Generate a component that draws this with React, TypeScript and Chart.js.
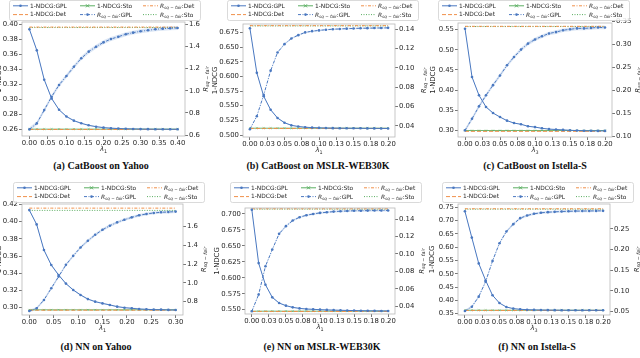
import React, { useEffect, useRef } from "react";
import { Chart, registerables } from "chart.js";
Chart.register(...registerables);

// ---------------- data ----------------
// shared lambda grids
const lambda040 = [0, 0.02, 0.04, 0.06, 0.08, 0.1, 0.12, 0.14, 0.16, 0.18, 0.2, 0.22, 0.24, 0.26, 0.28, 0.3, 0.32, 0.34, 0.36, 0.38, 0.4];
const lambda030 = [0, 0.015, 0.03, 0.045, 0.06, 0.075, 0.09, 0.105, 0.12, 0.135, 0.15, 0.165, 0.18, 0.195, 0.21, 0.225, 0.24, 0.255, 0.27, 0.285, 0.3];
const lambda020 = [0, 0.01, 0.02, 0.03, 0.04, 0.05, 0.06, 0.07, 0.08, 0.09, 0.1, 0.11, 0.12, 0.13, 0.14, 0.15, 0.16, 0.17, 0.18, 0.19, 0.2];

const xTicks040 = [0, 0.05, 0.1, 0.15, 0.2, 0.25, 0.3, 0.35, 0.4];
const xLabels040 = ["0.00", "0.05", "0.10", "0.15", "0.20", "0.25", "0.30", "0.35", "0.40"];
const xTicks030 = [0, 0.05, 0.1, 0.15, 0.2, 0.25, 0.3];
const xLabels030 = ["0.00", "0.05", "0.10", "0.15", "0.20", "0.25", "0.30"];
const xTicks020 = [0, 0.025, 0.05, 0.075, 0.1, 0.125, 0.15, 0.175, 0.2];
const xLabels020 = ["0.00", "0.03", "0.05", "0.08", "0.10", "0.13", "0.15", "0.18", "0.20"];

// (a) CatBoost on Yahoo
const aNdcgGpl = [0.393, 0.365, 0.326, 0.301, 0.286, 0.277, 0.2715, 0.268, 0.2653, 0.2635, 0.2622, 0.2615, 0.261, 0.2607, 0.2605, 0.2603, 0.2602, 0.2601, 0.2601, 0.26, 0.26];
const aRiskGpl = [0.651, 0.705, 0.825, 0.946, 1.052, 1.133, 1.217, 1.293, 1.353, 1.398, 1.437, 1.467, 1.488, 1.51, 1.525, 1.537, 1.546, 1.555, 1.561, 1.564, 1.567];
const aBaselines = [0.2598, 0.2602, 1.575, 1.571]; // 1-NDCG:Det, 1-NDCG:Sto, R:Det, R:Sto
const aBand = [0.0008, 0.018];
const aLeftTicks = [0.26, 0.28, 0.3, 0.32, 0.34, 0.36, 0.38, 0.4];
const aRightTicks = [0.6, 0.8, 1.0, 1.2, 1.4, 1.6];

// (b) CatBoost on MSLR-WEB30K
const bNdcgGpl = [0.682, 0.606, 0.566, 0.543, 0.529, 0.521, 0.5165, 0.5145, 0.5133, 0.5126, 0.5122, 0.5119, 0.5117, 0.5116, 0.5115, 0.5114, 0.5114, 0.5113, 0.5113, 0.5112, 0.5112];
const bRiskGpl = [0.0366, 0.05, 0.072, 0.097, 0.1158, 0.1244, 0.1303, 0.1337, 0.1365, 0.1378, 0.1386, 0.1393, 0.1398, 0.1401, 0.1404, 0.1406, 0.1408, 0.1409, 0.141, 0.1411, 0.1412];
const bBaselines = [0.5112, 0.5116, 0.1435, 0.1432];
const bBand = [0.0008, 0.0008];
const bLeftTicks = [0.5, 0.525, 0.55, 0.575, 0.6, 0.625, 0.65, 0.675];
const bRightTicks = [0.04, 0.06, 0.08, 0.1, 0.12, 0.14];

// (c) CatBoost on Istella-S
const cNdcgGpl = [0.5525, 0.4325, 0.387, 0.358, 0.343, 0.333, 0.324, 0.318, 0.315, 0.31, 0.308, 0.305, 0.303, 0.302, 0.301, 0.3, 0.2995, 0.299, 0.2988, 0.2986, 0.2985];
const cRiskGpl = [0.113, 0.138, 0.165, 0.189, 0.211, 0.232, 0.254, 0.272, 0.288, 0.301, 0.31, 0.317, 0.323, 0.326, 0.33, 0.332, 0.334, 0.334, 0.335, 0.336, 0.336];
const cBaselines = [0.2975, 0.2995, 0.3385, 0.338];
const cBand = [0.001, 0.004];
const cLeftTicks = [0.3, 0.35, 0.4, 0.45, 0.5, 0.55];
const cRightTicks = [0.1, 0.15, 0.2, 0.25, 0.3, 0.35];

// (d) NN on Yahoo
const dNdcgGpl = [0.4134, 0.3968, 0.367, 0.3496, 0.338, 0.328, 0.3206, 0.3148, 0.31, 0.307, 0.305, 0.3032, 0.3012, 0.3, 0.2993, 0.2985, 0.2981, 0.2977, 0.2977, 0.2974, 0.2973];
const dRiskGpl = [0.7, 0.729, 0.818, 0.942, 1.066, 1.191, 1.287, 1.376, 1.447, 1.511, 1.564, 1.607, 1.643, 1.671, 1.696, 1.718, 1.732, 1.743, 1.75, 1.753, 1.757];
const dBaselines = [0.2971, 0.2975, 1.794, 1.77];
const dBand = [0.0008, 0.015];
const dLeftTicks = [0.3, 0.32, 0.34, 0.36, 0.38, 0.4, 0.42];
const dRightTicks = [0.8, 1.0, 1.2, 1.4, 1.6];

// (e) NN on MSLR-WEB30K
const eNdcgGpl = [0.7068, 0.623, 0.589, 0.5693, 0.5604, 0.5563, 0.5536, 0.552, 0.551, 0.5505, 0.55, 0.5496, 0.5493, 0.549, 0.5488, 0.5486, 0.5484, 0.5482, 0.5481, 0.548, 0.548];
const eRiskGpl = [0.0343, 0.0534, 0.0859, 0.105, 0.123, 0.1318, 0.1382, 0.142, 0.1443, 0.1458, 0.147, 0.1477, 0.1485, 0.1489, 0.1492, 0.1494, 0.1495, 0.1496, 0.1497, 0.1497, 0.1498];
const eBaselines = [0.5472, 0.5476, 0.1517, 0.1513];
const eBand = [0.0008, 0.0012];
const eLeftTicks = [0.55, 0.575, 0.6, 0.625, 0.65, 0.675, 0.7];
const eRightTicks = [0.04, 0.06, 0.08, 0.1, 0.12, 0.14];

// (f) NN on Istella-S
const fNdcgGpl = [0.735, 0.636, 0.539, 0.475, 0.419, 0.39, 0.375, 0.369, 0.3665, 0.365, 0.3642, 0.3637, 0.3634, 0.3632, 0.363, 0.3629, 0.3628, 0.3627, 0.3627, 0.3626, 0.3626];
const fRiskGpl = [0.0516, 0.062, 0.0863, 0.1226, 0.1726, 0.2153, 0.2435, 0.2613, 0.2758, 0.2823, 0.2863, 0.2887, 0.2903, 0.291, 0.2919, 0.2924, 0.2928, 0.293, 0.2932, 0.2934, 0.2935];
const fBaselines = [0.3622, 0.3628, 0.2985, 0.2975];
const fBand = [0.001, 0.003];
const fLeftTicks = [0.35, 0.4, 0.45, 0.5, 0.55, 0.6, 0.65, 0.7, 0.75];
const fRightTicks = [0.05, 0.1, 0.15, 0.2, 0.25];

// ---------------- styles ----------------
const BLUE = "#4a78c0";
const BAND = "rgba(90,140,210,0.22)";
const ORANGE = "#f0904a";
const GREEN = "#5aae61";
const FONT = '"DejaVu Sans", sans-serif';
const TICK_FS = 6.9;
const TXT = "#262626";

type Panel = {
  caption: string; sub: string;
  lambda: number[]; ndcg: number[]; risk: number[]; base: number[]; band: number[];
  xTicks: number[]; xLabels: string[];
  leftTicks: number[]; leftDigits: number; rightTicks: number[]; rightDigits: number;
  xRange: number[]; leftRange: number[]; rightRange: number[];
  cell: number[]; area: number[]; legend: number[]; leftTitleX: number; rightTitleX: number; captionXY: number[];
};

const panels: Panel[] = [
  { caption: "(a) CatBoost on Yahoo", sub: "1", lambda: lambda040, ndcg: aNdcgGpl, risk: aRiskGpl, base: aBaselines, band: aBand,
    xTicks: xTicks040, xLabels: xLabels040, leftTicks: aLeftTicks, leftDigits: 2, rightTicks: aRightTicks, rightDigits: 1,
    xRange: [-0.02, 0.42], leftRange: [0.2511, 0.4027], rightRange: [0.591, 1.621],
    cell: [0, 0, 211, 158], area: [22, 22, 185, 136], legend: [9, 0], leftTitleX: -1, rightTitleX: 205, captionXY: [101, 167] },
  { caption: "(b) CatBoost on MSLR-WEB30K", sub: "1", lambda: lambda020, ndcg: bNdcgGpl, risk: bRiskGpl, base: bBaselines, band: bBand,
    xTicks: xTicks020, xLabels: xLabels020, leftTicks: bLeftTicks, leftDigits: 3, rightTicks: bRightTicks, rightDigits: 2,
    xRange: [-0.01, 0.21], leftRange: [0.4966, 0.6893], rightRange: [0.0285, 0.1452],
    cell: [211, 0, 428, 158], area: [243, 24, 395, 137], legend: [227, 0], leftTitleX: 215.5, rightTitleX: 423, captionXY: [318, 167] },
  { caption: "(c) CatBoost on Istella-S", sub: "3", lambda: lambda020, ndcg: cNdcgGpl, risk: cRiskGpl, base: cBaselines, band: cBand,
    xTicks: xTicks020, xLabels: xLabels020, leftTicks: cLeftTicks, leftDigits: 2, rightTicks: cRightTicks, rightDigits: 2,
    xRange: [-0.01, 0.21], leftRange: [0.2834, 0.5666], rightRange: [0.0986, 0.3457],
    cell: [428, 0, 640, 158], area: [458, 23, 612, 137], legend: [438, 0], leftTitleX: 433, rightTitleX: 637, captionXY: [535, 167] },
  { caption: "(d) NN on Yahoo", sub: "1", lambda: lambda030, ndcg: dNdcgGpl, risk: dRiskGpl, base: dBaselines, band: dBand,
    xTicks: xTicks030, xLabels: xLabels030, leftTicks: dLeftTicks, leftDigits: 2, rightTicks: dRightTicks, rightDigits: 1,
    xRange: [-0.015, 0.315], leftRange: [0.2915, 0.4205], rightRange: [0.658, 1.838],
    cell: [0, 178, 211, 336], area: [22, 204, 183, 315], legend: [13, 182], leftTitleX: -1, rightTitleX: 203, captionXY: [96, 348] },
  { caption: "(e) NN on MSLR-WEB30K", sub: "1", lambda: lambda020, ndcg: eNdcgGpl, risk: eRiskGpl, base: eBaselines, band: eBand,
    xTicks: xTicks020, xLabels: xLabels020, leftTicks: eLeftTicks, leftDigits: 3, rightTicks: eRightTicks, rightDigits: 2,
    xRange: [-0.01, 0.21], leftRange: [0.5432, 0.7094], rightRange: [0.0312, 0.1526],
    cell: [211, 178, 428, 336], area: [245, 208, 395, 314], legend: [230, 182], leftTitleX: 217, rightTitleX: 421, captionXY: [322, 348] },
  { caption: "(f) NN on Istella-S", sub: "3", lambda: lambda020, ndcg: fNdcgGpl, risk: fRiskGpl, base: fBaselines, band: fBand,
    xTicks: xTicks020, xLabels: xLabels020, leftTicks: fLeftTicks, leftDigits: 2, rightTicks: fRightTicks, rightDigits: 2,
    xRange: [-0.01, 0.21], leftRange: [0.345, 0.7624], rightRange: [0.042, 0.31],
    cell: [428, 178, 640, 336], area: [458, 204, 610, 315], legend: [442, 182], leftTitleX: 432, rightTitleX: 636, captionXY: [537, 348] },
];

// ---------------- drawing helpers ----------------
function drawR(ctx: CanvasRenderingContext2D, x: number, y: number, fs: number, suffix: string, align: "left" | "center") {
  const f1 = `italic ${fs}px ${FONT}`;
  const f2 = `italic ${fs * 0.7}px ${FONT}`;
  const f3 = `${fs}px ${FONT}`;
  ctx.font = f1; const w1 = ctx.measureText("R").width;
  ctx.font = f2; const w2 = ctx.measureText("sq − fair").width;
  ctx.font = f3; const w3 = suffix ? ctx.measureText(suffix).width : 0;
  let sx = align === "center" ? x - (w1 + w2 + w3) / 2 : x;
  ctx.textAlign = "left";
  ctx.textBaseline = "alphabetic";
  ctx.font = f1; ctx.fillText("R", sx, y); sx += w1;
  ctx.font = f2; ctx.fillText("sq − fair", sx, y + fs * 0.25); sx += w2;
  if (suffix) { ctx.font = f3; ctx.fillText(suffix, sx, y); }
}

function drawHandle(ctx: CanvasRenderingContext2D, x: number, y: number, kind: string) {
  const len = 15;
  ctx.save();
  ctx.lineWidth = 1;
  if (kind === "ndcgGpl" || kind === "rGpl") {
    ctx.strokeStyle = BLUE;
    if (kind === "rGpl") ctx.setLineDash([3, 1.5, 1, 1.5]);
    ctx.beginPath(); ctx.moveTo(x, y); ctx.lineTo(x + len, y); ctx.stroke();
    ctx.setLineDash([]);
    ctx.fillStyle = BLUE; ctx.beginPath(); ctx.arc(x + len / 2, y, 1.3, 0, Math.PI * 2); ctx.fill();
  } else if (kind === "ndcgSto") {
    ctx.strokeStyle = GREEN;
    ctx.beginPath(); ctx.moveTo(x, y); ctx.lineTo(x + len, y); ctx.stroke();
    const m = x + len / 2;
    ctx.beginPath(); ctx.moveTo(m - 1.5, y - 1.5); ctx.lineTo(m + 1.5, y + 1.5); ctx.moveTo(m - 1.5, y + 1.5); ctx.lineTo(m + 1.5, y - 1.5); ctx.stroke();
  } else {
    ctx.strokeStyle = kind === "rSto" ? GREEN : ORANGE;
    ctx.setLineDash(kind === "ndcgDet" ? [4, 2] : kind === "rDet" ? [3, 1.5, 1, 1.5] : [1, 1.5]);
    ctx.beginPath(); ctx.moveTo(x, y); ctx.lineTo(x + len, y); ctx.stroke();
  }
  ctx.restore();
}

function drawLegend(ctx: CanvasRenderingContext2D, lx: number, ly: number) {
  ctx.save();
  ctx.fillStyle = "rgba(255,255,255,0.85)";
  ctx.strokeStyle = "#d0d0d0";
  ctx.lineWidth = 0.8;
  ctx.beginPath();
  (ctx as any).roundRect(lx + 0.5, ly + 0.5, 191, 20, 2);
  ctx.fill(); ctx.stroke();
  const cols = [4, 71, 134];
  const rows = [ly + 5.8, ly + 14.6];
  const entries = [
    { c: 0, r: 0, kind: "ndcgGpl", text: "1-NDCG:GPL" },
    { c: 1, r: 0, kind: "ndcgSto", text: "1-NDCG:Sto" },
    { c: 2, r: 0, kind: "rDet", text: ":Det" },
    { c: 0, r: 1, kind: "ndcgDet", text: "1-NDCG:Det" },
    { c: 1, r: 1, kind: "rGpl", text: ":GPL" },
    { c: 2, r: 1, kind: "rSto", text: ":Sto" },
  ];
  const fs = 5.9;
  for (const e of entries) {
    const hx = (lx + cols[e.c]);
    const y = rows[e.r];
    drawHandle(ctx, hx, y, e.kind);
    ctx.fillStyle = TXT;
    if (e.kind.startsWith("ndcg")) {
      ctx.font = `${fs}px ${FONT}`;
      ctx.textAlign = "left"; ctx.textBaseline = "middle";
      ctx.fillText(e.text, hx + 17, y + 0.3);
    } else {
      drawR(ctx, hx + 17, y + 2.2, fs, e.text, "left");
    }
  }
  ctx.restore();
}

function makeConfig(p: Panel): any {
  const [cx0, cy0, cx1, cy1] = p.cell;
  const [al, at, ar, ab] = p.area;
  const pts = (ys: number[], off = 0) => p.lambda.map((x, i) => ({ x, y: ys[i] + off }));
  const flat = (v: number) => p.lambda.map((x) => ({ x, y: v }));
  const tickFont = { family: FONT, size: TICK_FS };
  const grid = { drawOnChartArea: false, drawTicks: true, tickLength: 3, color: "#555", lineWidth: 0.8 };

  const decor = {
    id: "decor",
    afterDraw(chart: any) {
      const ctx: CanvasRenderingContext2D = chart.ctx;
      const a = chart.chartArea;
      ctx.save();
      ctx.strokeStyle = "#b8b8b8";
      ctx.lineWidth = 0.8;
      ctx.strokeRect(a.left, a.top, a.right - a.left, a.bottom - a.top);
      const midY = (a.top + a.bottom) / 2;
      // left title
      ctx.fillStyle = TXT;
      ctx.save();
      ctx.translate(p.leftTitleX - cx0, midY);
      ctx.rotate(-Math.PI / 2);
      ctx.font = `${TICK_FS}px ${FONT}`;
      ctx.textAlign = "center"; ctx.textBaseline = "middle";
      ctx.fillText("1-NDCG", 0, 0);
      ctx.restore();
      // right title
      ctx.save();
      ctx.translate(p.rightTitleX - cx0, midY);
      ctx.rotate(-Math.PI / 2);
      ctx.fillStyle = TXT;
      drawR(ctx, 0, 2.5, TICK_FS, "", "center");
      ctx.restore();
      // x title
      const mx = (a.left + a.right) / 2;
      ctx.font = `italic ${TICK_FS}px ${FONT}`;
      const wl = ctx.measureText("λ").width;
      ctx.textAlign = "left"; ctx.textBaseline = "alphabetic";
      const ty = a.bottom + 15;
      ctx.fillText("λ", mx - wl / 2 - 1.5, ty);
      ctx.font = `${TICK_FS * 0.7}px ${FONT}`;
      ctx.fillText(p.sub, mx + wl / 2 - 1.5, ty + 1.8);
      // legend
      drawLegend(ctx, p.legend[0] - cx0, p.legend[1] - cy0);
      ctx.restore();
    },
  };

  return {
    type: "line",
    data: {
      datasets: [
        { label: "1-NDCG:GPL", data: pts(p.ndcg), yAxisID: "yL", borderColor: BLUE, borderWidth: 1, pointRadius: 1.3, pointBackgroundColor: BLUE, pointBorderWidth: 0, fill: false },
        { label: "R:GPL", data: pts(p.risk), yAxisID: "yR", borderColor: BLUE, borderWidth: 1, borderDash: [3, 1.5, 1, 1.5], pointRadius: 1.3, pointBackgroundColor: BLUE, pointBorderWidth: 0, fill: false },
        { label: "1-NDCG:Det", data: flat(p.base[0]), yAxisID: "yL", borderColor: ORANGE, borderWidth: 1, borderDash: [4, 2], pointRadius: 0, fill: false },
        { label: "1-NDCG:Sto", data: flat(p.base[1]), yAxisID: "yL", borderColor: GREEN, borderWidth: 0.9, pointStyle: "crossRot", pointRadius: 1.3, pointBorderColor: GREEN, pointBorderWidth: 0.6, fill: false },
        { label: "R:Det", data: flat(p.base[2]), yAxisID: "yR", borderColor: ORANGE, borderWidth: 1, borderDash: [3, 1.5, 1, 1.5], pointRadius: 0, fill: false },
        { label: "R:Sto", data: flat(p.base[3]), yAxisID: "yR", borderColor: GREEN, borderWidth: 1, borderDash: [1, 1.5], pointRadius: 0, fill: false },
        { label: "bandNU", data: pts(p.ndcg, p.band[0]), yAxisID: "yL", borderWidth: 0, pointRadius: 0, fill: false },
        { label: "bandNL", data: pts(p.ndcg, -p.band[0]), yAxisID: "yL", borderWidth: 0, pointRadius: 0, fill: "-1", backgroundColor: BAND },
        { label: "bandRU", data: pts(p.risk, p.band[1]), yAxisID: "yR", borderWidth: 0, pointRadius: 0, fill: false },
        { label: "bandRL", data: pts(p.risk, -p.band[1]), yAxisID: "yR", borderWidth: 0, pointRadius: 0, fill: "-1", backgroundColor: BAND },
      ],
    },
    options: {
      animation: false,
      responsive: false,
      maintainAspectRatio: false,
      devicePixelRatio: 1,
      layout: { padding: { top: at - cy0, left: 0, right: 0, bottom: 0 } },
      plugins: { legend: { display: false }, tooltip: { enabled: false }, title: { display: false } },
      elements: { line: { tension: 0 } },
      scales: {
        x: {
          type: "linear", min: p.xRange[0], max: p.xRange[1],
          afterBuildTicks: (s: any) => { s.ticks = p.xTicks.map((v) => ({ value: v })); },
          afterFit: (s: any) => { s.height = cy1 - ab; },
          ticks: { font: tickFont, color: TXT, autoSkip: false, maxRotation: 0, padding: 0, callback: (_v: any, i: number) => p.xLabels[i] },
          grid, border: { display: false },
        },
        yL: {
          type: "linear", position: "left", min: p.leftRange[0], max: p.leftRange[1],
          afterBuildTicks: (s: any) => { s.ticks = p.leftTicks.map((v) => ({ value: v })); },
          afterFit: (s: any) => { s.width = al - cx0; },
          ticks: { font: tickFont, color: TXT, padding: 1, callback: (v: any) => Number(v).toFixed(p.leftDigits) },
          grid, border: { display: false },
        },
        yR: {
          type: "linear", position: "right", min: p.rightRange[0], max: p.rightRange[1],
          afterBuildTicks: (s: any) => { s.ticks = p.rightTicks.map((v) => ({ value: v })); },
          afterFit: (s: any) => { s.width = cx1 - ar; },
          ticks: { font: tickFont, color: TXT, padding: 1, callback: (v: any) => Number(v).toFixed(p.rightDigits) },
          grid, border: { display: false },
        },
      },
    },
    plugins: [decor],
  };
}

function PanelChart({ p }: { p: Panel }) {
  const ref = useRef<HTMLCanvasElement>(null);
  useEffect(() => {
    const chart = new Chart(ref.current as HTMLCanvasElement, makeConfig(p));
    return () => chart.destroy();
  }, [p]);
  const [x0, y0, x1, y1] = p.cell;
  return (
    <canvas
      ref={ref}
      width={x1 - x0}
      height={y1 - y0}
      style={{ position: "absolute", left: x0, top: y0, width: x1 - x0, height: y1 - y0 }}
    />
  );
}

export default function App() {
  useEffect(() => { document.body.style.margin = "0"; }, []);
  return (
    <div style={{ position: "absolute", left: 0, top: 0, width: 640, height: 358, background: "#fff", overflow: "hidden" }}>
      {panels.map((p, i) => (
        <React.Fragment key={i}>
          <PanelChart p={p} />
          <div
            style={{
              position: "absolute", left: p.captionXY[0] - 110, top: p.captionXY[1] - 7, width: 220, height: 14,
              lineHeight: "14px", textAlign: "center", font: 'bold 10px "Liberation Serif", serif', color: "#111", whiteSpace: "nowrap",
            }}
          >
            {p.caption}
          </div>
        </React.Fragment>
      ))}
    </div>
  );
}
